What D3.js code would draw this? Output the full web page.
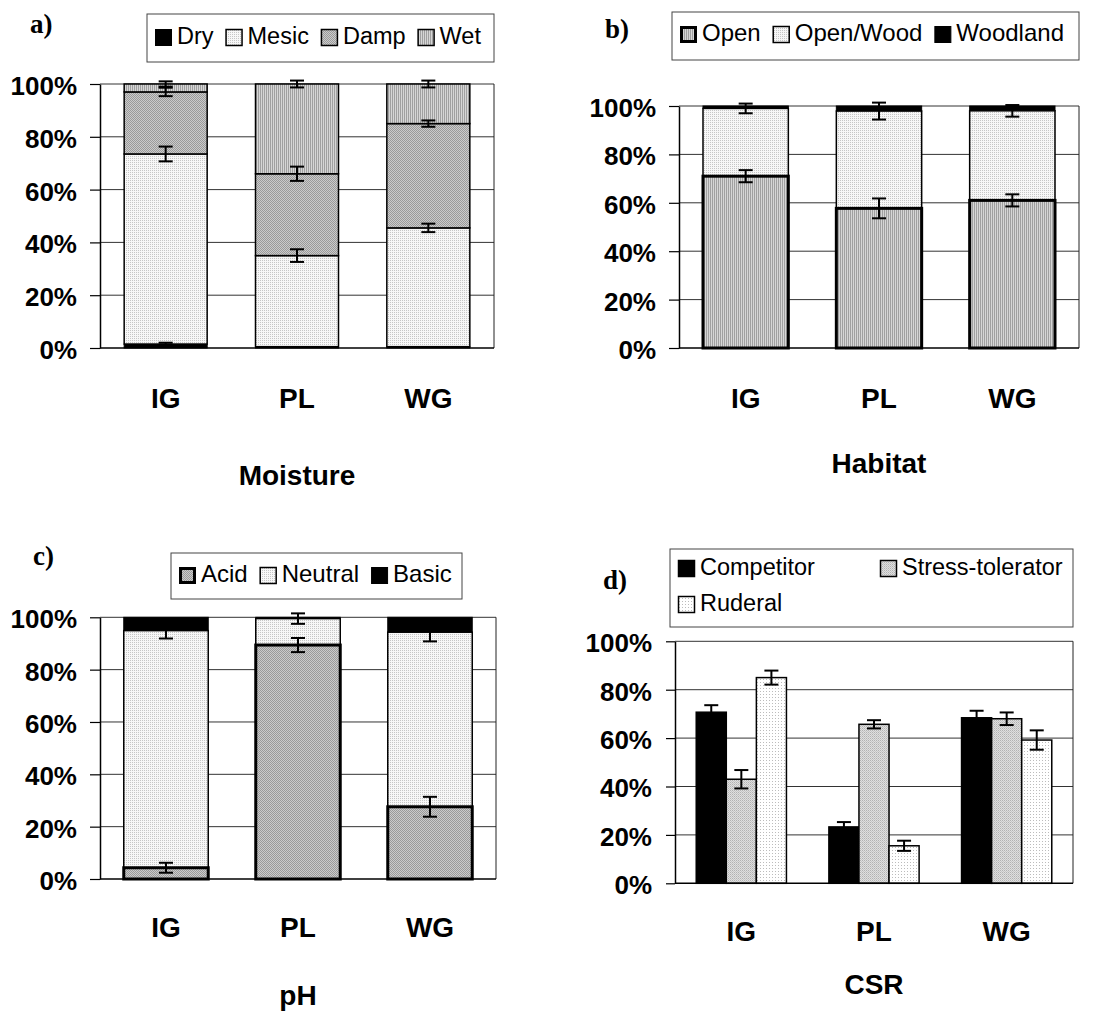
<!DOCTYPE html>
<html>
<head>
<meta charset="utf-8">
<script src="https://cdn.jsdelivr.net/npm/d3@7"></script>
<style>
  body { margin: 0; background: #fff; }
  svg { display: block; }
</style>
</head>
<body>
<div id="chart"></div>
<script>
var groups = ["IG", "PL", "WG"];
var ticks = [0, 20, 40, 60, 80, 100];

// a) Moisture (share of each class, stacked)
var moistureKeys = ["Dry", "Mesic", "Damp", "Wet"];
var dry = [1.5, 0.5, 0.5];
var mesic = [72, 34.5, 45];
var damp = [23.5, 31, 39.5];
var wet = [3, 34, 15];
var dryErr = [0.5, 0, 0];
var mesicErr = [2.8, 2.4, 1.6];
var dampErr = [1.6, 2.7, 1.2];
var wetErr = [1, 1.3, 1.3];

// b) Habitat
var habitatKeys = ["Open", "Open/Wood", "Woodland"];
var open = [71, 57.7, 61];
var openWood = [28, 40.2, 37];
var woodland = [1, 2.1, 2];
var openErr = [2.5, 4.1, 2.5];
var openWoodErr = [2, 3.5, 2.4];
var woodlandErr = [0, 0, 0];

// c) pH
var phKeys = ["Acid", "Neutral", "Basic"];
var acid = [4.3, 89.4, 27.6];
var neutral = [90.6, 10.1, 66.7];
var basic = [5.1, 0.5, 5.7];
var acidErr = [1.9, 2.7, 3.8];
var neutralErr = [3, 2, 3.5];
var basicErr = [0, 0, 0];

// d) CSR (grouped)
var csrKeys = ["Competitor", "Stress-tolerator", "Ruderal"];
var competitor = [70.7, 23.3, 68.4];
var stressTol = [43, 65.7, 68];
var ruderal = [85, 15.5, 59.2];
var competitorErr = [2.9, 2, 2.9];
var stressTolErr = [3.8, 1.7, 2.6];
var ruderalErr = [2.9, 2.1, 4];

var SANS = "'Liberation Sans', Arial, sans-serif";
var SERIF = "'Liberation Serif', 'Times New Roman', serif";

var svg = d3.select("#chart").append("svg")
  .attr("width", 1109)
  .attr("height", 1035);
var defs = svg.append("defs");

function pattern(id, w, h, bg, dots) {
  var p = defs.append("pattern").attr("id", id)
    .attr("patternUnits", "userSpaceOnUse")
    .attr("width", w).attr("height", h);
  p.append("rect").attr("width", w).attr("height", h).attr("fill", bg);
  dots.forEach(function(d) {
    p.append("rect").attr("x", d[0]).attr("y", d[1])
      .attr("width", 1).attr("height", 1).attr("fill", d[2]);
  });
}
pattern("light", 2, 2, "#f7f7f7", [[0, 0, "#c6c6c6"]]);
pattern("checker", 2, 2, "#cbcbcb", [[0, 0, "#9a9a9a"], [1, 1, "#9a9a9a"]]);
pattern("vstripe", 2, 1, "#d6d6d6", [[0, 0, "#a0a0a0"]]);
pattern("stress", 2, 2, "#dfdfdf", [[0, 0, "#b2b2b2"], [1, 1, "#c6c6c6"]]);
pattern("sparse", 3, 3, "#ffffff", [[1, 1, "#bcbcbc"]]);

var styles = {
  "Dry": { fill: "#000", sw: 1 },
  "Mesic": { fill: "url(#light)", sw: 1.5 },
  "Damp": { fill: "url(#checker)", sw: 1.5 },
  "Wet": { fill: "url(#vstripe)", sw: 1.5 },
  "Open": { fill: "url(#vstripe)", sw: 3 },
  "Open/Wood": { fill: "url(#light)", sw: 1.5 },
  "Woodland": { fill: "#000", sw: 1 },
  "Acid": { fill: "url(#checker)", sw: 3 },
  "Neutral": { fill: "url(#light)", sw: 1.5 },
  "Basic": { fill: "#000", sw: 1 },
  "Competitor": { fill: "#000", sw: 1.5 },
  "Stress-tolerator": { fill: "url(#stress)", sw: 1.5 },
  "Ruderal": { fill: "url(#sparse)", sw: 1.5 }
};

function makeRows(keys, series) {
  return groups.map(function(g, i) {
    var r = { group: g };
    keys.forEach(function(k, j) { r[k] = series[j][i]; });
    return r;
  });
}

function frame(g, cfg, y) {
  g.selectAll(".grid").data(ticks.filter(function(t) { return t > 0; }))
    .enter().append("line")
    .attr("x1", cfg.x0).attr("x2", cfg.x1)
    .attr("y1", function(d) { return y(d); })
    .attr("y2", function(d) { return y(d); })
    .attr("stroke", "#333").attr("stroke-width", 1);
  g.append("line")
    .attr("x1", cfg.x1).attr("x2", cfg.x1)
    .attr("y1", y(100)).attr("y2", y(0))
    .attr("stroke", "#222").attr("stroke-width", 1);
}

function axes(g, cfg, x, y) {
  g.append("line")
    .attr("x1", cfg.x0).attr("x2", cfg.x1)
    .attr("y1", y(0)).attr("y2", y(0))
    .attr("stroke", "#000").attr("stroke-width", 1.5);

  var ya = g.append("g")
    .attr("transform", "translate(" + cfg.x0 + ",0)")
    .call(d3.axisLeft(y).tickValues(ticks)
      .tickFormat(function(d) { return d + "%"; })
      .tickSize(cfg.tick).tickSizeOuter(0).tickPadding(23 - cfg.tick));
  ya.select(".domain").attr("stroke-width", 1.5);
  ya.selectAll(".tick line").attr("stroke-width", 1.2);
  ya.selectAll("text")
    .attr("font-family", SANS).attr("font-size", 26)
    .attr("font-weight", "bold").attr("dy", "0.4em");

  var xa = g.append("g")
    .attr("transform", "translate(0," + cfg.y0 + ")")
    .call(d3.axisBottom(x).tickSize(0).tickPadding(cfg.xBase - cfg.y0 - 0.71 * 28));
  xa.select(".domain").remove();
  xa.selectAll("text")
    .attr("font-family", SANS).attr("font-size", 28).attr("font-weight", "bold");

  g.append("text")
    .attr("x", (cfg.x0 + cfg.x1) / 2).attr("y", cfg.titleBase)
    .attr("text-anchor", "middle")
    .attr("font-family", SANS).attr("font-size", 28).attr("font-weight", "bold")
    .text(cfg.title);

  g.append("text")
    .attr("x", cfg.label[0]).attr("y", cfg.label[1])
    .attr("font-family", SERIF).attr("font-size", 27).attr("font-weight", "bold")
    .text(cfg.tag);
}

function errorBar(g, cx, yv, e, y) {
  if (!e) return;
  var top = y(yv + e), bot = y(yv - e);
  g.append("line").attr("x1", cx).attr("x2", cx).attr("y1", top).attr("y2", bot);
  g.append("line").attr("x1", cx - 7).attr("x2", cx + 7).attr("y1", top).attr("y2", top);
  g.append("line").attr("x1", cx - 7).attr("x2", cx + 7).attr("y1", bot).attr("y2", bot);
}

function legend(g, cfg, keys) {
  var L = cfg.legend;
  g.append("rect")
    .attr("x", L.x).attr("y", L.y).attr("width", L.w).attr("height", L.h)
    .attr("fill", "#fff").attr("stroke", "#444").attr("stroke-width", 1);
  var cx = L.x + 8;
  keys.forEach(function(k, i) {
    var px = cx, base = L.base;
    if (L.pos) { px = L.pos[i][0]; base = L.pos[i][1]; }
    var s = styles[k];
    var inset = s.sw > 2 ? 1.5 : 0.5;
    g.append("rect")
      .attr("x", px + inset).attr("y", base - 15 + inset)
      .attr("width", 17 - 2 * inset).attr("height", 17 - 2 * inset)
      .attr("fill", s.fill).attr("stroke", "#000").attr("stroke-width", s.sw);
    var t = g.append("text")
      .attr("x", px + 22).attr("y", base)
      .attr("font-family", SANS).attr("font-size", L.fs)
      .text(k);
    cx = px + 22 + t.node().getComputedTextLength() + 12;
  });
}

function stackedPanel(cfg, keys, series, errs) {
  var g = svg.append("g");
  var x = d3.scaleBand().domain(groups).range([cfg.x0, cfg.x1])
    .paddingInner(cfg.pad).paddingOuter(cfg.pad / 2);
  var y = d3.scaleLinear().domain([0, 100]).range([cfg.y0, cfg.y1]);

  frame(g, cfg, y);

  var rows = makeRows(keys, series);
  var layers = d3.stack().keys(keys)(rows);
  var order = layers.slice().sort(function(a, b) {
    return styles[a.key].sw - styles[b.key].sw;
  });
  order.forEach(function(layer) {
    var s = styles[layer.key];
    g.append("g").selectAll("rect")
      .data(layer.filter(function(d) { return d[1] - d[0] > 0; }))
      .enter().append("rect")
      .attr("x", function(d) { return x(d.data.group); })
      .attr("width", x.bandwidth())
      .attr("y", function(d) { return y(d[1]); })
      .attr("height", function(d) { return y(d[0]) - y(d[1]); })
      .attr("fill", s.fill)
      .attr("stroke", "#000").attr("stroke-width", s.sw);
  });

  var eg = g.append("g").attr("stroke", "#000").attr("stroke-width", 2);
  layers.forEach(function(layer, j) {
    layer.forEach(function(d, i) {
      errorBar(eg, x(d.data.group) + x.bandwidth() / 2, d[1], errs[j][i], y);
    });
  });

  axes(g, cfg, x, y);
  legend(g, cfg, keys);
}

function groupedPanel(cfg, keys, series, errs) {
  var g = svg.append("g");
  var x = d3.scaleBand().domain(groups).range([cfg.x0, cfg.x1])
    .paddingInner(cfg.pad).paddingOuter(cfg.pad / 2);
  var xi = d3.scaleBand().domain(keys).range([0, x.bandwidth()]);
  var y = d3.scaleLinear().domain([0, 100]).range([cfg.y0, cfg.y1]);

  frame(g, cfg, y);

  keys.forEach(function(k, j) {
    var s = styles[k];
    g.append("g").selectAll("rect")
      .data(series[j])
      .enter().append("rect")
      .attr("x", function(d, i) { return x(groups[i]) + xi(k); })
      .attr("width", xi.bandwidth())
      .attr("y", function(d) { return y(d); })
      .attr("height", function(d) { return y(0) - y(d); })
      .attr("fill", s.fill)
      .attr("stroke", "#000").attr("stroke-width", s.sw);
  });

  var eg = g.append("g").attr("stroke", "#000").attr("stroke-width", 2);
  keys.forEach(function(k, j) {
    series[j].forEach(function(v, i) {
      errorBar(eg, x(groups[i]) + xi(k) + xi.bandwidth() / 2, v, errs[j][i], y);
    });
  });

  axes(g, cfg, x, y);
  legend(g, cfg, keys);
}

stackedPanel({
  x0: 100, x1: 494, y0: 348, y1: 84, pad: 0.368, tick: 10,
  xBase: 408, title: "Moisture", titleBase: 485, tag: "a)", label: [30, 33],
  legend: { x: 147, y: 14, w: 347, h: 48, base: 44, fs: 23.5 }
}, moistureKeys, [dry, mesic, damp, wet], [dryErr, mesicErr, dampErr, wetErr]);

stackedPanel({
  x0: 679, x1: 1079, y0: 348, y1: 106, pad: 0.36, tick: 10,
  xBase: 408, title: "Habitat", titleBase: 473, tag: "b)", label: [605, 38],
  legend: { x: 672, y: 12, w: 407, h: 48, base: 41, fs: 24 }
}, habitatKeys, [open, openWood, woodland], [openErr, openWoodErr, woodlandErr]);

stackedPanel({
  x0: 100, x1: 496, y0: 879, y1: 617.3, pad: 0.36, tick: 10,
  xBase: 937, title: "pH", titleBase: 1005, tag: "c)", label: [33, 565],
  legend: { x: 171, y: 553, w: 291, h: 46, base: 582, fs: 24 }
}, phKeys, [acid, neutral, basic], [acidErr, neutralErr, basicErr]);

groupedPanel({
  x0: 675, x1: 1073, y0: 883.3, y1: 641.3, pad: 0.32, tick: 9,
  xBase: 941, title: "CSR", titleBase: 994, tag: "d)", label: [603, 589],
  legend: { x: 670, y: 549, w: 403, h: 78, fs: 23.5,
            pos: [[678, 575], [880, 575], [678, 611]] }
}, csrKeys, [competitor, stressTol, ruderal], [competitorErr, stressTolErr, ruderalErr]);
</script>
</body>
</html>
